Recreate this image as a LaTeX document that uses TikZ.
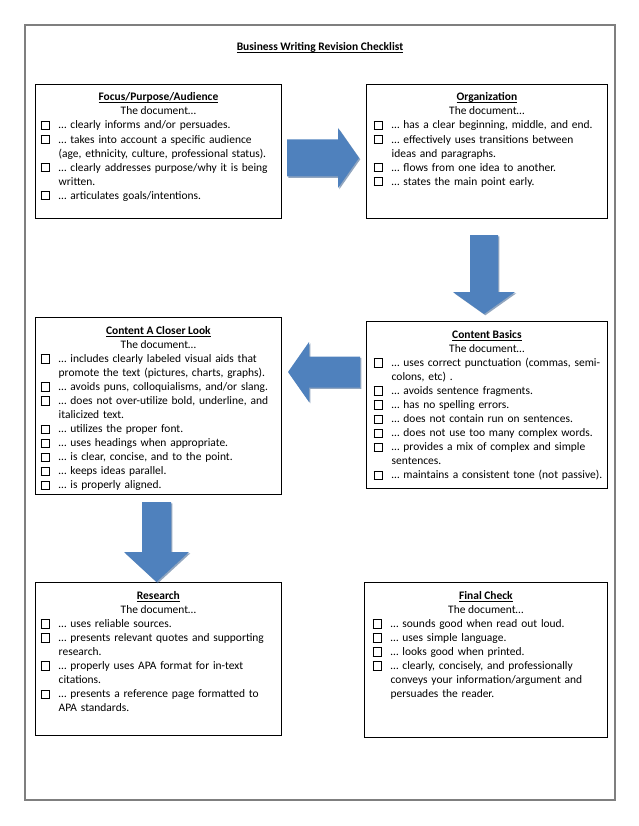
\documentclass[tikz,border=0pt]{standalone}
\usepackage{fontspec}
\setmainfont{Carlito}
\usetikzlibrary{positioning}

\definecolor{arrowblue}{HTML}{4F81BD}
\definecolor{arrowedge}{HTML}{385D8A}
\definecolor{framegray}{HTML}{7F7F7F}

% check box, underlined heading, one checklist item
\newcommand\ckbox{{\setlength{\fboxsep}{0pt}\setlength{\fboxrule}{0.6pt}\fbox{\rule{0pt}{7.6pt}\rule{7.6pt}{0pt}}}}
\newcommand\headline[1]{\setbox0\hbox{\bfseries #1}\rlap{\rule[-1.9pt]{\wd0}{0.75pt}}\box0}
\newcommand\chkitem[1]{\noindent\hangindent=18pt\hangafter=1\makebox[18pt][l]{\ckbox}#1\par}

% block arrow: position, angle, length, head length, half shaft, half head
\newcommand\blockarrow[6]{%
  \fill[arrowedge, opacity=0.55, shift={#1}, shift={(1.3,1.3)}, rotate=#2]
    (-#3/2,-#5) -- ({#3/2-#4},-#5) -- ({#3/2-#4},-#6) -- (#3/2,0)
    -- ({#3/2-#4},#6) -- ({#3/2-#4},#5) -- (-#3/2,#5) -- cycle;
  \fill[arrowblue, shift={#1}, rotate=#2]
    (-#3/2,-#5) -- ({#3/2-#4},-#5) -- ({#3/2-#4},-#6) -- (#3/2,0)
    -- ({#3/2-#4},#6) -- ({#3/2-#4},#5) -- (-#3/2,#5) -- cycle;
}

\tikzset{
  every node/.style={font=\fontsize{11.47}{14.05}\selectfont},
  listbox/.style={draw=black, line width=0.8pt, anchor=north west, inner sep=0pt},
  listhead/.style={anchor=base, inner sep=0pt},
  listtext/.style={anchor=base west, text width=300pt, inner sep=0pt},
}

\begin{document}
\begin{tikzpicture}[x=1pt,y=-1pt]
    \useasboundingbox (0,0) rectangle (638,826);

    % Page frame and title
    \draw[framegray, line width=1.1pt] (25,25) rectangle (615,800);
    \node[listhead] (title) at (320,51) {\headline{Business Writing Revision Checklist}};

    % Focus/Purpose/Audience
    \node[listbox, minimum width=246pt, minimum height=134pt] (focus) at (35,84) {};
    \node[listhead] (focus-head) at ([yshift=-17pt]focus.north) {\headline{Focus/Purpose/Audience}};
    \node[listhead] (focus-sub) at ([yshift=-31pt]focus.north) {The document…};
    \node[listtext] (focus-list) at ([xshift=5.5pt,yshift=-45pt]focus.north west) {%
      \chkitem{… clearly informs and/or persuades.}
      \chkitem{… takes into account a specific audience\newline (age, ethnicity, culture, professional status).}
      \chkitem{… clearly addresses purpose/why it is being\newline written.}
      \chkitem{… articulates goals/intentions.}};

    % Organization
    \node[listbox, minimum width=241pt, minimum height=134pt] (org) at (366,84) {};
    \node[listhead] (org-head) at ([yshift=-17pt]org.north) {\headline{Organization}};
    \node[listhead] (org-sub) at ([yshift=-31pt]org.north) {The document…};
    \node[listtext] (org-list) at ([xshift=7.5pt,yshift=-45pt]org.north west) {%
      \chkitem{… has a clear beginning, middle, and end.}
      \chkitem{… effectively uses transitions between\newline ideas and paragraphs.}
      \chkitem{… flows from one idea to another.}
      \chkitem{… states the main point early.}};

    % Content Basics
    \node[listbox, minimum width=241pt, minimum height=167pt] (basics) at (366,321) {};
    \node[listhead] (basics-head) at ([yshift=-17.5pt]basics.north) {\headline{Content Basics}};
    \node[listhead] (basics-sub) at ([yshift=-31.5pt]basics.north) {The document…};
    \node[listtext] (basics-list) at ([xshift=7.5pt,yshift=-45.5pt]basics.north west) {%
      \chkitem{… uses correct punctuation (commas, semi-\newline colons, etc) .}
      \chkitem{… avoids sentence fragments.}
      \chkitem{… has no spelling errors.}
      \chkitem{… does not contain run on sentences.}
      \chkitem{… does not use too many complex words.}
      \chkitem{… provides a mix of complex and simple\newline sentences.}
      \chkitem{… maintains a consistent tone (not passive).}};

    % Content A Closer Look
    \node[listbox, minimum width=246pt, minimum height=177pt] (closer) at (35,317) {};
    \node[listhead] (closer-head) at ([yshift=-17.5pt]closer.north) {\headline{Content A Closer Look}};
    \node[listhead] (closer-sub) at ([yshift=-31.5pt]closer.north) {The document…};
    \node[listtext] (closer-list) at ([xshift=5.5pt,yshift=-45.5pt]closer.north west) {%
      \chkitem{… includes clearly labeled visual aids that\newline promote the text (pictures, charts, graphs).}
      \chkitem{… avoids puns, colloquialisms, and/or slang.}
      \chkitem{… does not over-utilize bold, underline, and\newline italicized text.}
      \chkitem{… utilizes the proper font.}
      \chkitem{… uses headings when appropriate.}
      \chkitem{… is clear, concise, and to the point.}
      \chkitem{… keeps ideas parallel.}
      \chkitem{… is properly aligned.}};

    % Research
    \node[listbox, minimum width=246pt, minimum height=153pt] (research) at (35,582) {};
    \node[listhead] (research-head) at ([yshift=-17.5pt]research.north) {\headline{Research}};
    \node[listhead] (research-sub) at ([yshift=-31.5pt]research.north) {The document…};
    \node[listtext] (research-list) at ([xshift=5.5pt,yshift=-45.5pt]research.north west) {%
      \chkitem{… uses reliable sources.}
      \chkitem{… presents relevant quotes and supporting\newline research.}
      \chkitem{… properly uses APA format for in-text\newline citations.}
      \chkitem{… presents a reference page formatted to\newline APA standards.}};

    % Final Check
    \node[listbox, minimum width=243pt, minimum height=155pt] (final) at (364,582) {};
    \node[listhead] (final-head) at ([yshift=-17.5pt]final.north) {\headline{Final Check}};
    \node[listhead] (final-sub) at ([yshift=-31.5pt]final.north) {The document…};
    \node[listtext] (final-list) at ([xshift=8.5pt,yshift=-45.5pt]final.north west) {%
      \chkitem{… sounds good when read out loud.}
      \chkitem{… uses simple language.}
      \chkitem{… looks good when printed.}
      \chkitem{… clearly, concisely, and professionally\newline conveys your information/argument and\newline persuades the reader.}};

    % Block arrows between the boxes
    \blockarrow{(323,158)}{0}{72}{21}{18.5}{30}
    \blockarrow{(484,274.5)}{-90}{79}{22}{14}{31}
    \blockarrow{(324,372)}{180}{72}{21}{15.5}{30}
    \blockarrow{(156.5,542)}{-90}{80}{30}{14.5}{32.5}
\end{tikzpicture}
\end{document}
